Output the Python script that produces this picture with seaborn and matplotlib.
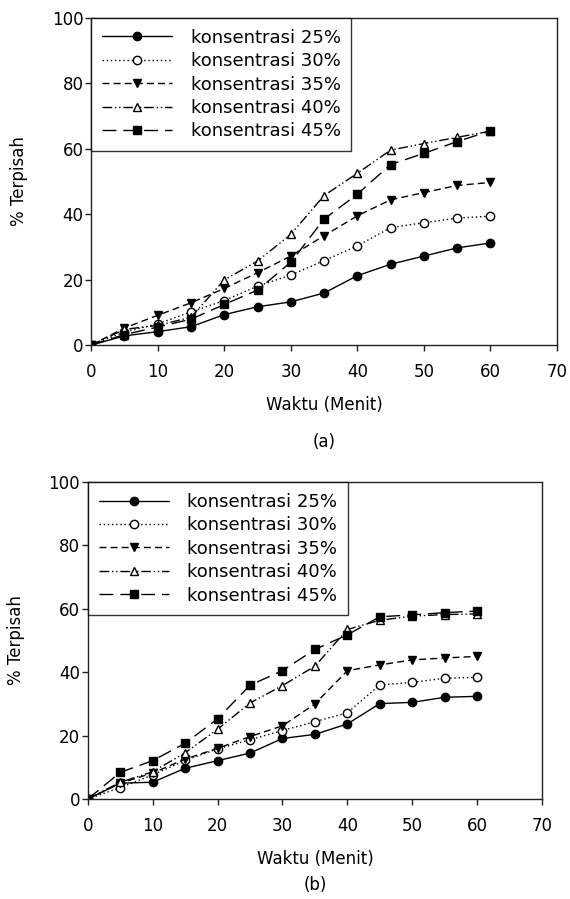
import numpy as np
import pandas as pd
import seaborn as sns
import matplotlib
matplotlib.use('agg')
import matplotlib.pyplot as plt

waktu = [0, 5, 10, 15, 20, 25, 30, 35, 40, 45, 50, 55, 60]
labels = ['konsentrasi 25%', 'konsentrasi 30%', 'konsentrasi 35%',
          'konsentrasi 40%', 'konsentrasi 45%']

# (a)
a_25 = [0, 2.8, 4.1, 5.6, 9.3, 11.7, 13.2, 15.9, 21.2, 24.7, 27.2, 29.7, 31.2]
a_30 = [0, 4.0, 6.5, 10.1, 13.6, 18.0, 21.4, 25.8, 30.3, 35.9, 37.4, 38.8, 39.4]
a_35 = [0, 5.2, 9.1, 12.9, 17.3, 22.1, 27.2, 33.4, 39.5, 44.4, 46.6, 48.8, 49.7]
a_40 = [0, 4.8, 6.0, 8.5, 19.9, 25.7, 33.8, 45.7, 52.5, 59.6, 61.6, 63.5, 65.4]
a_45 = [0, 3.2, 5.5, 7.9, 12.4, 16.8, 25.3, 38.5, 46.1, 55.2, 58.6, 62.2, 65.5]

# (b)
b_25 = [0, 5.0, 5.3, 9.7, 12.1, 14.5, 19.1, 20.4, 23.7, 30.1, 30.5, 32.1, 32.4]
b_30 = [0, 3.6, 7.6, 12.2, 15.8, 18.7, 21.6, 24.4, 27.2, 36.0, 36.8, 38.1, 38.4]
b_35 = [0, 5.0, 8.2, 12.6, 16.0, 19.7, 23.1, 30.0, 40.5, 42.3, 43.9, 44.5, 45.0]
b_40 = [0, 5.3, 8.6, 14.6, 22.0, 30.3, 35.8, 41.9, 53.5, 56.4, 57.7, 58.2, 58.4]
b_45 = [0, 8.4, 12.1, 17.6, 25.3, 35.9, 40.5, 47.2, 51.8, 57.5, 58.1, 58.8, 59.3]

gaya = [
    dict(linestyle='-', marker='o', markerfacecolor='black'),
    dict(linestyle=(0, (1, 2)), marker='o', markerfacecolor='white'),
    dict(linestyle=(0, (5, 3)), marker='v', markerfacecolor='black'),
    dict(linestyle=(0, (7, 2, 1, 2, 1, 2)), marker='^', markerfacecolor='white'),
    dict(linestyle=(0, (10, 5)), marker='s', markerfacecolor='black'),
]

sns.set_theme(style='white')
plt.rcParams['font.family'] = ['DejaVu Sans']
plt.rcParams['text.color'] = 'black'
plt.rcParams['axes.labelcolor'] = 'black'
plt.rcParams['xtick.color'] = 'black'
plt.rcParams['ytick.color'] = 'black'

fig = plt.figure(figsize=(5.7, 8.99), dpi=100)
ax_a = fig.add_axes([0.160, 0.6162, 0.817, 0.3638])
ax_b = fig.add_axes([0.154, 0.1112, 0.797, 0.3526])


def gambar(ax, seri, huruf, posisi):
    for vals, lab, g in zip(seri, labels, gaya):
        sns.lineplot(x=waktu, y=vals, ax=ax, color='black', linewidth=1.0,
                     markersize=6, markeredgecolor='black', markeredgewidth=1.0,
                     label=lab, **g)
    ax.set_xlim(0, 70)
    ax.set_ylim(0, 100)
    ax.set_xticks(range(0, 71, 10))
    ax.set_yticks(range(0, 101, 20))
    for s in ax.spines.values():
        s.set_color('#222222')
        s.set_linewidth(1.0)
    ax.tick_params(axis='both', direction='out', length=4, width=1,
                   color='#222222', labelcolor='black', labelsize=12,
                   bottom=True, left=True)
    ax.tick_params(axis='x', pad=9)
    ax.tick_params(axis='y', pad=1.5)
    ax.set_xlabel('Waktu (Menit)', fontsize=12, labelpad=11, color='black')
    ax.set_ylabel('% Terpisah', fontsize=12, labelpad=17, color='black')
    leg = ax.legend(loc='upper left', bbox_to_anchor=(0, 1), borderaxespad=0,
                    fontsize=13, frameon=True, fancybox=False, handlelength=3.9,
                    handletextpad=1.0, labelspacing=0.3, borderpad=0.6,
                    labelcolor='black')
    leg.get_frame().set_edgecolor('black')
    leg.get_frame().set_linewidth(1.0)
    ax.text(0.5, posisi, huruf, transform=ax.transAxes, ha='center',
            va='center', fontsize=12, color='black')


gambar(ax_a, [a_25, a_30, a_35, a_40, a_45], '(a)', -0.295)
gambar(ax_b, [b_25, b_30, b_35, b_40, b_45], '(b)', -0.272)

fig.savefig('out.png', dpi=100)
